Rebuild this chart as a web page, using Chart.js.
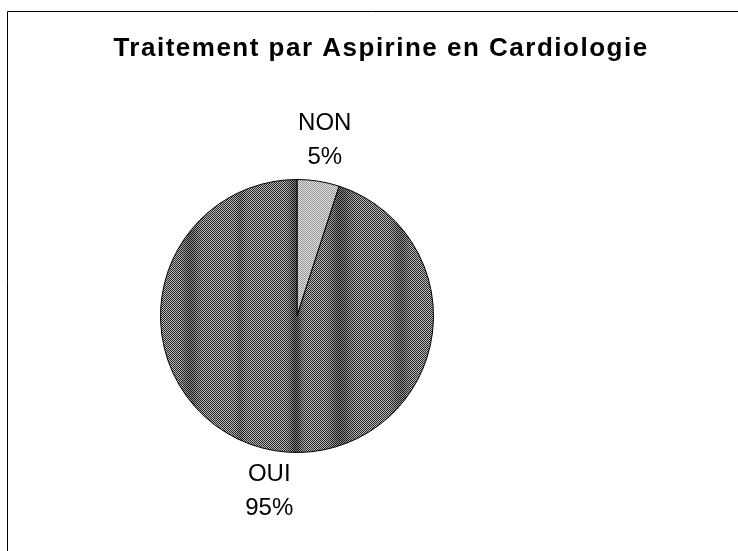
<!DOCTYPE html>
<html>
<head>
<meta charset="utf-8">
<script src="https://cdn.jsdelivr.net/npm/chart.js@4/dist/chart.umd.min.js"></script>
<style>
  html, body { margin: 0; padding: 0; background: #fff; }
  #wrap { width: 738px; height: 551px; position: relative; }
</style>
</head>
<body>
<div id="wrap"><canvas id="c" width="738" height="551"></canvas></div>
<script>
// ── Data ────────────────────────────────────────────
const TITLE = 'Traitement par Aspirine en Cardiologie';
const labels = ['NON', 'OUI'];
const values = [5, 95];
const percentLabels = ['5%', '95%'];

// ── Dithered fills (scanned look) ───────────────────
function dither(light, dark, bands) {
  const w = 738, h = 2;
  const cv = document.createElement('canvas');
  cv.width = w; cv.height = h;
  const cx = cv.getContext('2d');
  for (let x = 0; x < w; x++) {
    let shade = 0;
    bands.forEach(b => { shade += b[2] * Math.exp(-Math.pow((x - b[0]) / b[1], 2)); });
    for (let y = 0; y < h; y++) {
      const on = (x + y) % 2 === 0;
      const base = on ? dark : light;
      const v = Math.max(0, Math.round(base - shade * (on ? 0.4 : 1)));
      cx.fillStyle = `rgb(${v},${v},${v})`;
      cx.fillRect(x, y, 1, 1);
    }
  }
  return cv;
}
const ctx = document.getElementById('c').getContext('2d');
const ouiFill = ctx.createPattern(dither(185, 40, [[190, 8, 45], [240, 4, 30], [295, 6, 60], [340, 10, 50], [400, 8, 40]]), 'repeat');
const nonFill = ctx.createPattern(dither(225, 150, []), 'repeat');

// ── Frame, title and outside labels ─────────────────
const decor = {
  id: 'decor',
  afterDraw(chart) {
    const c = chart.ctx;
    c.save();
    c.strokeStyle = '#000';
    c.lineWidth = 1;
    c.beginPath();
    c.moveTo(7.5, 551);
    c.lineTo(7.5, 11.5);
    c.lineTo(738, 11.5);
    c.stroke();
    c.fillStyle = '#000';
    c.textAlign = 'center';
    c.textBaseline = 'middle';
    c.font = 'bold 26px "Liberation Sans", Arial, sans-serif';
    c.letterSpacing = '1.5px';
    c.fillText(TITLE, 381, 49);
    c.letterSpacing = '0px';
    c.font = '24px "Liberation Sans", Arial, sans-serif';
    chart.getDatasetMeta(0).data.forEach((arc, i) => {
      const p = arc.getProps(['x', 'y', 'startAngle', 'endAngle', 'outerRadius']);
      const mid = (p.startAngle + p.endAngle) / 2;
      const r = p.outerRadius + 41;
      const lx = p.x + Math.cos(mid) * r;
      const ly = p.y + Math.sin(mid) * r;
      c.fillText(labels[i], lx, ly - 17);
      c.fillText(percentLabels[i], lx, ly + 17);
    });
    c.restore();
  }
};

new Chart(ctx, {
  type: 'pie',
  data: {
    labels,
    datasets: [{
      data: values,
      backgroundColor: [nonFill, ouiFill],
      borderColor: '#000',
      borderWidth: 1
    }]
  },
  options: {
    responsive: false,
    animation: false,
    layout: { padding: { left: 160, right: 304, top: 179, bottom: 98 } },
    plugins: {
      legend: { display: false },
      title: { display: false },
      tooltip: { enabled: false }
    }
  },
  plugins: [decor]
});
</script>
</body>
</html>
